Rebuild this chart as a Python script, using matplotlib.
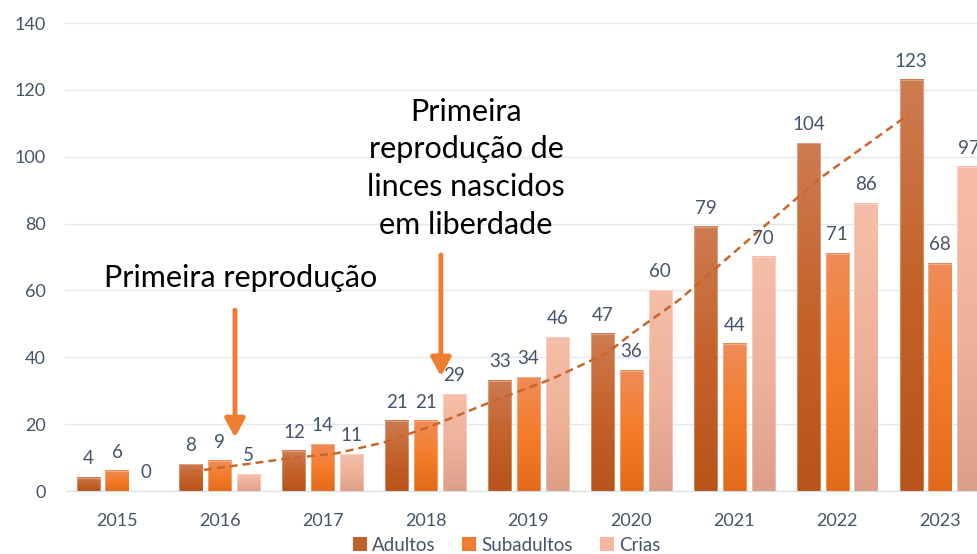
import matplotlib

matplotlib.use("Agg")
import matplotlib.pyplot as plt
import numpy as np
from matplotlib.colors import LinearSegmentedColormap
from matplotlib.patches import Patch


years = ["2015", "2016", "2017", "2018", "2019", "2020", "2021", "2022", "2023"]
adultos = [4, 8, 12, 21, 33, 47, 79, 104, 123]
subadultos = [6, 9, 14, 21, 34, 36, 44, 71, 68]
crias = [0, 5, 11, 29, 46, 60, 70, 86, 97]

# dashed trend line on the adults series (x in category units)
trend_x = [0.72, 1.61, 2.14, 2.59, 3.04, 3.60, 4.24, 4.76, 5.01, 5.47, 6.25, 6.83, 7.69]
trend_y = [5.8, 9.5, 11.3, 14.5, 19.2, 26.2, 33.7, 41.2, 47.2, 57.3, 78.1, 93.5, 112.5]

series_names = ["Adultos", "Subadultos", "Crias"]
gradients = [
    ["#b8541a", "#c4622a", "#ce7b51"],
    ["#e36a18", "#f47c2a", "#ef8c58"],
    ["#dd9f87", "#efb29b", "#f6bea8"],
]
legend_colors = ["#c0602a", "#f07c30", "#f4b8a0"]

TEXT_COLOR = "#44546a"
ARROW_COLOR = "#ed7d31"
TREND_COLOR = "#c8662c"

plt.rcParams["font.family"] = ["Lato", "DejaVu Sans"]


def draw_gradient_bars(ax, x, values, colors):
    cmap = LinearSegmentedColormap.from_list("grad", colors)
    grad = np.linspace(0, 1, 256).reshape(-1, 1)
    bars = ax.bar(x, values, width=0.225, facecolor="none",
                  edgecolor=(1, 1, 1, 0.3), linewidth=0.7, zorder=3)
    for bar in bars:
        h = bar.get_height()
        if h <= 0:
            continue
        x0 = bar.get_x()
        ax.imshow(grad, cmap=cmap, origin="lower", aspect="auto", zorder=2,
                  extent=(x0, x0 + bar.get_width(), 0, h), interpolation="bilinear")
    for bar, v in zip(bars, values):
        ax.annotate(str(v), (bar.get_x() + bar.get_width() / 2, bar.get_height()),
                    xytext=(0, 9.5), textcoords="offset points",
                    ha="center", va="baseline", fontsize=13.5, color=TEXT_COLOR, zorder=5)
    return bars


fig = plt.figure(figsize=(9.78, 5.54), dpi=100)
ax = fig.add_axes([65.5 / 978, 1 - 491 / 554, 926 / 978, 468 / 554])

idx = np.arange(len(years))
offset = 0.28
for k, (vals, cols) in enumerate(zip([adultos, subadultos, crias], gradients)):
    draw_gradient_bars(ax, idx + (k - 1) * offset, vals, cols)

ax.plot(trend_x, trend_y, color=TREND_COLOR, lw=1.8, dashes=(3.2, 2.0), zorder=4)

ax.set_xlim(-0.5, len(years) - 0.5)
ax.set_ylim(0, 140)
ax.set_yticks(range(0, 141, 20))
ax.set_xticks(idx)
ax.set_xticklabels(years)
ax.grid(axis="y", color="#e4e7ee", lw=1.0, zorder=0)
ax.set_axisbelow(True)
for side in ["top", "right", "left"]:
    ax.spines[side].set_visible(False)
ax.spines["bottom"].set_color("#d9dde5")
ax.tick_params(axis="both", length=0, labelsize=13, colors=TEXT_COLOR)
ax.tick_params(axis="x", pad=16)
ax.tick_params(axis="y", pad=14)

# annotations
ax.text(1.205, 63.7, "Primeira reprodução", ha="center", va="center",
        fontsize=22, color="black", zorder=6)
ax.text(3.392, 96.6, "Primeira\nreprodução de\nlinces nascidos\nem liberdade",
        ha="center", va="center", fontsize=22, color="black", linespacing=1.42, zorder=6)
arrow_style = dict(arrowstyle="-|>,head_width=0.3,head_length=0.55", mutation_scale=20,
                   lw=3.5, color=ARROW_COLOR, shrinkA=0, shrinkB=0)
ax.annotate("", xy=(1.147, 16.0), xytext=(1.147, 54.1), arrowprops=arrow_style, zorder=6)
ax.annotate("", xy=(3.149, 34.3), xytext=(3.149, 70.6), arrowprops=arrow_style, zorder=6)

handles = [Patch(facecolor=c, edgecolor="none", label=n) for c, n in zip(legend_colors, series_names)]
fig.legend(handles=handles, loc="center", bbox_to_anchor=(0.518, 0.016), ncol=3,
           frameon=False, fontsize=13.5, handlelength=0.75, handleheight=0.75,
           handletextpad=0.3, columnspacing=1.4, labelcolor=TEXT_COLOR)

fig.savefig("out.png", dpi=100)
